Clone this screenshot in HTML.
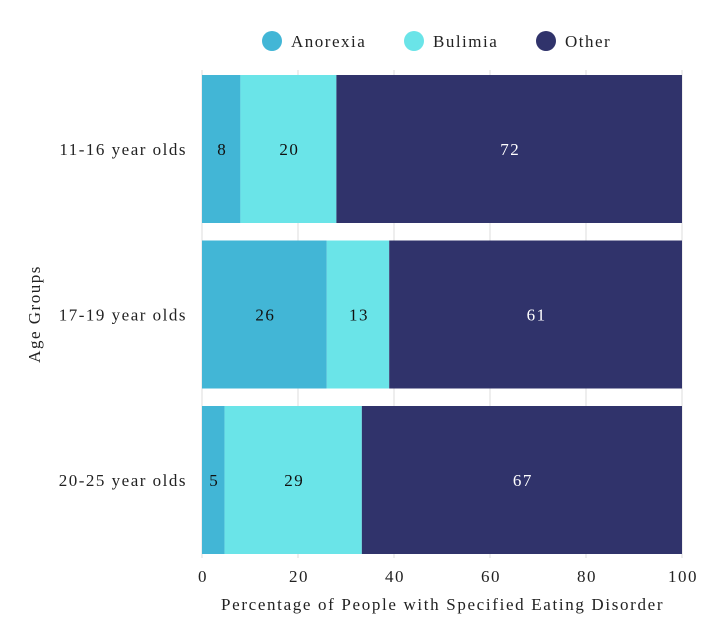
<!DOCTYPE html>
<html><head><meta charset="utf-8"><style>
body{margin:0;background:#fff;}
svg{display:block;font-family:"Liberation Serif",serif;}
svg text{letter-spacing:1.5px;}
</style></head><body>
<svg id="c" width="720" height="638"></svg>
<script>
const categories=["11-16 year olds","17-19 year olds","20-25 year olds"];
const seriesNames=["Anorexia","Bulimia","Other"];
const anorexia=[8,26,4.7];
const bulimia=[20,13,28.6];
const other=[72,61,66.7];
const xTicks=[0,20,40,60,80,100];
const colors=["#42b6d6","#6ae4e8","#30336b"];
const textColors=["#111","#111","#fff"];
const ns="http://www.w3.org/2000/svg";
const svg=document.getElementById("c");
const X0=202,X1=682,Y0=70,band=165.5,barH=148;
function x(v){return X0+(X1-X0)*v/100;}
function yb(i){return Y0+5+i*band;}
function el(t,a,p){const e=document.createElementNS(ns,t);for(const k in a)e.setAttribute(k,a[k]);(p||svg).appendChild(e);return e;}
xTicks.forEach(t=>{
 const g=el("line",{x1:x(t),x2:x(t),y1:Y0,y2:558,stroke:"#ddd","stroke-width":1});
 
 
 const tx=el("text",{x:x(t)+1,y:582,"text-anchor":"middle","font-size":17,fill:"#222"});
 tx.textContent=t;
 
 
});
const series=[anorexia,bulimia,other];
categories.forEach((c,i)=>{
 let acc=0;
 const cy=yb(i)+barH/2;
 series.forEach((s,j)=>{
  const v=s[i];const a=x(acc),b=x(Math.min(100,acc+v));
  const r=el("rect",{x:a,y:yb(i),width:b-a,height:barH,fill:colors[j]});
  
  
  const t=el("text",{x:(a+b)/2+1,y:cy+6,"text-anchor":"middle","font-size":17,fill:textColors[j]});
  t.textContent=Math.round(v);
  
  
  acc+=v;
 });
 const l=el("text",{x:187,y:cy+6,"text-anchor":"end","font-size":17,fill:"#222"});
 l.textContent=c;
 
 
});
const xt=el("text",{x:221,y:610,"font-size":17,fill:"#222",textLength:443,lengthAdjust:"spacing"});
xt.textContent="Percentage of People with Specified Eating Disorder";


const yt=el("text",{x:0,y:0,"text-anchor":"middle","font-size":17,fill:"#222",transform:"translate(40,314) rotate(-90)"});
yt.textContent="Age Groups";


const lx=[272,414,546];
seriesNames.forEach((n,j)=>{
 const g=el("g",{});
 
 
 el("circle",{cx:lx[j],cy:41,r:10,fill:colors[j]},g);
 const t=el("text",{x:lx[j]+19,y:47,"font-size":17,fill:"#222"},g);
 t.textContent=n;
});
</script>
</body></html>
